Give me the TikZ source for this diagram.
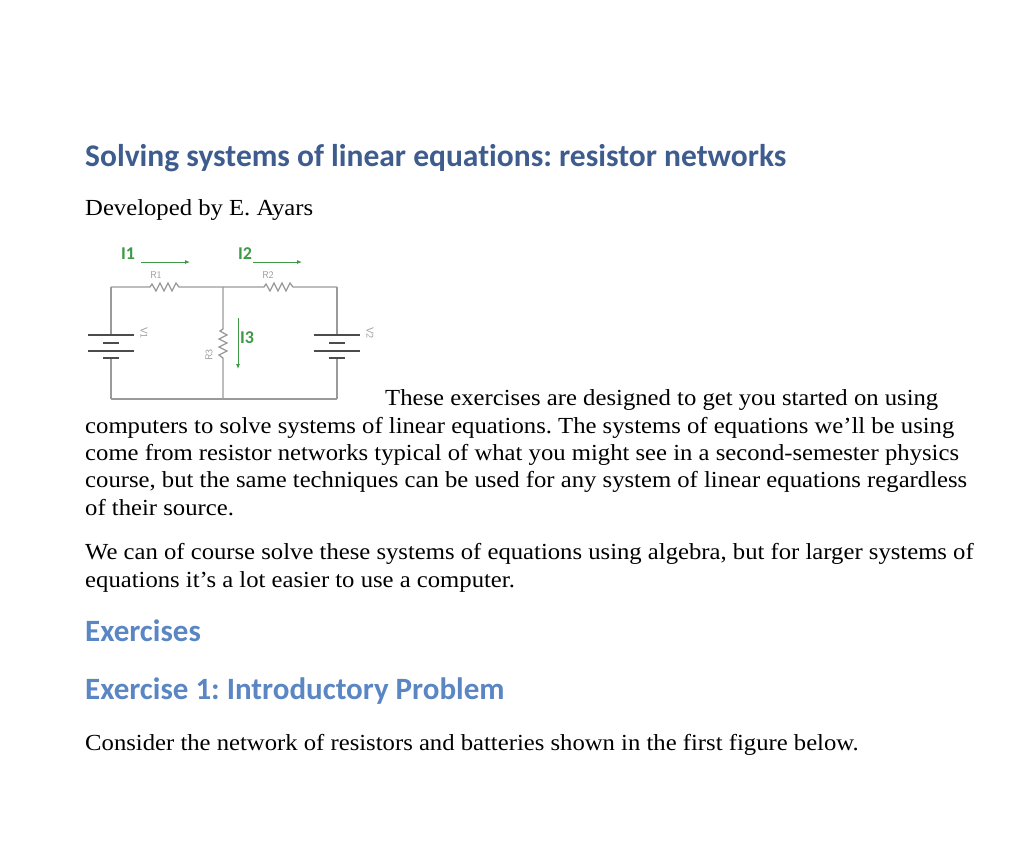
\documentclass[tikz,border=0pt]{standalone}
\usepackage{fontspec}
\usetikzlibrary{arrows.meta}
\setmainfont{Liberation Serif}
\newfontfamily\headfont[Ligatures=NoCommon]{Carlito}
\definecolor{titleblue}{HTML}{3E5C8E}
\definecolor{headblue}{HTML}{5A86C4}
\definecolor{wire}{HTML}{9A9A9A}
\definecolor{cgreen}{HTML}{3E9A45}
\newcommand{\ap}{\symbol{39}}
\begin{document}
\frenchspacing
\begin{tikzpicture}[x=1pt,y=-1pt,
  body/.style={anchor=base west,inner sep=0pt,xscale=1.073,font=\fontsize{23}{26}\selectfont},
  headst/.style={anchor=base west,inner sep=0pt,text=headblue,font=\headfont\bfseries\fontsize{31}{34}\selectfont},
  wirel/.style={draw=wire,line width=1.3pt},
  lbl/.style={text=wire,inner sep=0pt,font=\sffamily\fontsize{10}{10}\selectfont},
  curlbl/.style={text=cgreen,inner sep=0pt,font=\headfont\bfseries\fontsize{18}{18}\selectfont},
  curarr/.style={draw=cgreen,line width=0.9pt,-{Latex[length=5pt,width=4pt]}}]
\useasboundingbox (0,0) rectangle (1024,860);
\fill[white] (0,0) rectangle (1024,860);
\node[anchor=base west,inner sep=0pt,text=titleblue,font=\headfont\bfseries\fontsize{31.5}{34}\selectfont] (title) at (85,166) {Solving systems of linear equations: resistor networks};
\node[body] (dev) at (85,215) {Developed by E. Ayars};
% circuit
\coordinate (tl) at (111,287); \coordinate (tm) at (223,287); \coordinate (tr) at (337,287);
\coordinate (bl) at (111,399); \coordinate (bm) at (223,399); \coordinate (br) at (337,399);
\draw[wirel] (tl) -- (150,287) -- (152,284) -- (156,291) -- (160,283) -- (164,291) -- (168,283) -- (172,291) -- (176,283) -- (179,287) -- (tm);
\draw[wirel] (tm) -- (264,287) -- (266,284) -- (270,291) -- (274,283) -- (278,291) -- (282,283) -- (286,291) -- (290,283) -- (293,287) -- (tr);
\draw[wirel] (tm) -- (223,329) -- (220,331) -- (227,335) -- (219,339) -- (227,343) -- (219,347) -- (227,351) -- (219,355) -- (223,358) -- (bm);
\draw[wirel] (bl) -- (br);
\foreach \x/\n in {111/1,337/2}{
  \draw[wirel] (\x,287) -- (\x,335);
  \draw[wirel] (\x,358) -- (\x,399);
  \draw[line width=1.6pt,draw=black!70] (\x-23,335) -- (\x+23,335);
  \draw[line width=1.6pt,draw=black!70] (\x-8,343) -- (\x+8,343);
  \draw[line width=1.6pt,draw=black!70] (\x-23,351) -- (\x+23,351);
  \draw[line width=1.6pt,draw=black!70] (\x-8,358) -- (\x+8,358);
  \node[lbl,rotate=-90] (V\n) at (\x+33,333) {V\n};
}
\node[lbl] (R1) at (156,275) {R1};
\node[lbl] (R2) at (268,275) {R2};
\node[lbl,rotate=90] (R3) at (209,355) {R3};
\node[curlbl] (I1) at (128,254) {I1};
\node[curlbl] (I2) at (245,254) {I2};
\node[curlbl] (I3) at (247,338) {I3};
\coordinate (a1s) at (141,262); \coordinate (a1e) at (190,262);
\coordinate (a2s) at (253,262); \coordinate (a2e) at (302,262);
\coordinate (a3s) at (238,318); \coordinate (a3e) at (238,369);
\draw[curarr] (a1s) -- (a1e);
\draw[curarr] (a2s) -- (a2e);
\draw[curarr] (a3s) -- (a3e);
% body text
\node[body] (p1) at (385,405) {These exercises are designed to get you started on using};
\node[body] (p2) at (85,433) {computers to solve systems of linear equations. The systems of equations we\ap ll be using};
\node[body] (p3) at (85,460) {come from resistor networks typical of what you might see in a second-semester physics};
\node[body] (p4) at (85,487) {course, but the same techniques can be used for any system of linear equations regardless};
\node[body] (p5) at (85,515) {of their source.};
\node[body] (q1) at (85,559) {We can of course solve these systems of equations using algebra, but for larger systems of};
\node[body] (q2) at (85,587) {equations it\ap s a lot easier to use a computer.};
\node[headst] (h1) at (85,641) {Exercises};
\node[headst] (h2) at (85,699) {Exercise 1: Introductory Problem};
\node[body] (c1) at (85,750) {Consider the network of resistors and batteries shown in the first figure below.};
\end{tikzpicture}
\end{document}
